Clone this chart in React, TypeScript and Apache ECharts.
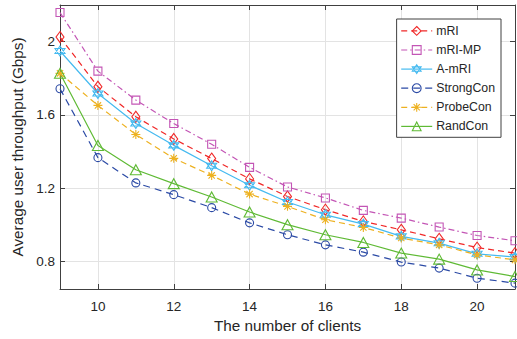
import React, { useEffect, useRef } from "react";
import * as echarts from "echarts";

const clients = ["9", "10", "11", "12", "13", "14", "15", "16", "17", "18", "19", "20", "21"];
const mRI = [2.025, 1.754, 1.59, 1.469, 1.362, 1.251, 1.155, 1.083, 1.019, 0.973, 0.924, 0.876, 0.846];
const mRIMP = [2.159, 1.839, 1.681, 1.553, 1.44, 1.314, 1.207, 1.147, 1.079, 1.037, 0.988, 0.942, 0.913];
const AmRI = [1.949, 1.717, 1.553, 1.434, 1.323, 1.216, 1.125, 1.055, 1.004, 0.937, 0.9, 0.842, 0.824];
const StrongCon = [1.743, 1.367, 1.229, 1.165, 1.094, 1.011, 0.946, 0.891, 0.851, 0.797, 0.764, 0.709, 0.682];
const ProbeCon = [1.827, 1.652, 1.493, 1.363, 1.27, 1.168, 1.101, 1.028, 0.986, 0.928, 0.891, 0.836, 0.809];
const RandCon = [1.827, 1.433, 1.301, 1.225, 1.152, 1.07, 1.001, 0.946, 0.904, 0.846, 0.813, 0.754, 0.718];

const yTicks = [0.8, 1.2, 1.6, 2];

const FONT = "Liberation Sans";
const AXIS_COLOR = "#404040";
const TEXT_COLOR = "#262626";
const GRID_COLOR = "#e3e3e3";

const SYM = {
  diamond: "path://M0,-1L0.72,0L0,1L-0.72,0Z",
  square: "path://M-1,-1L1,-1L1,1L-1,1Z",
  hexagram: "path://M0,-1L0.866,0.5L-0.866,0.5ZM0,1L0.866,-0.5L-0.866,-0.5Z",
  circle: "path://M1,0A1,1,0,1,1,-1,0A1,1,0,1,1,1,0Z",
  asterisk: "path://M0,-1L0,1M-1,0L1,0M-0.7,-0.7L0.7,0.7M-0.7,0.7L0.7,-0.7",
  triangle: "path://M0,-1L1,0.8L-1,0.8Z",
};

const seriesDefs = [
  { name: "mRI", data: mRI, color: "#f02828", dash: [6, 4] as any, symbol: SYM.diamond, size: [8, 11] },
  { name: "mRI-MP", data: mRIMP, color: "#c355b5", dash: [6, 3, 1.5, 3] as any, symbol: SYM.square, size: 8 },
  { name: "A-mRI", data: AmRI, color: "#45baf0", dash: "solid" as any, symbol: SYM.hexagram, size: 10 },
  { name: "StrongCon", data: StrongCon, color: "#2b4aa5", dash: [7, 5] as any, symbol: SYM.circle, size: 8 },
  { name: "ProbeCon", data: ProbeCon, color: "#edb120", dash: [6, 4] as any, symbol: SYM.asterisk, size: 9 },
  { name: "RandCon", data: RandCon, color: "#5fba35", dash: "solid" as any, symbol: SYM.triangle, size: [11, 10] },
];

const evenOnly = (_i: number, v: string) => Number(v) % 2 === 0;

export default function App() {
  const ref = useRef<HTMLDivElement>(null);
  useEffect(() => {
    document.body.style.margin = "0";
    if (!ref.current) return;
    const chart = echarts.init(ref.current, null, { renderer: "svg" });
    const yAxisBase = {
      type: "value" as const,
      min: 0.65,
      max: 2.2,
      axisLine: { show: true, lineStyle: { color: AXIS_COLOR, width: 1 } },
      axisTick: { show: true, inside: true, length: 5, customValues: yTicks, lineStyle: { color: AXIS_COLOR } },
    };
    const xAxisBase = {
      type: "category" as const,
      data: clients,
      boundaryGap: false,
      axisLine: { show: true, onZero: false, lineStyle: { color: AXIS_COLOR, width: 1 } },
      axisTick: { show: true, inside: true, length: 5, interval: evenOnly, lineStyle: { color: AXIS_COLOR } },
    };
    chart.setOption({
      animation: false,
      backgroundColor: "#ffffff",
      textStyle: { fontFamily: FONT },
      grid: { left: 60, right: 2, top: 5, bottom: 50, containLabel: false },
      legend: {
        orient: "vertical",
        right: 16,
        top: 19,
        padding: [5, 6, 4, 4],
        itemWidth: 31,
        itemHeight: 11,
        itemGap: 5.3,
        backgroundColor: "#ffffff",
        borderColor: AXIS_COLOR,
        borderWidth: 1,
        textStyle: { fontFamily: FONT, fontSize: 12.3, color: TEXT_COLOR, padding: [0, 0, 0, -1] },
        data: seriesDefs.map((s) => ({
          name: s.name,
          itemStyle: { color: "none", borderColor: s.color, borderWidth: 1.1 },
          lineStyle: { color: s.color, type: s.dash, width: 1.2 },
        })),
      },
      xAxis: [
        {
          ...xAxisBase,
          position: "bottom",
          name: "The number of clients",
          nameLocation: "middle",
          nameGap: 27,
          nameTextStyle: { fontFamily: FONT, fontSize: 15.3, color: TEXT_COLOR },
          axisLabel: { interval: evenOnly, margin: 10, fontFamily: FONT, fontSize: 13.5, color: TEXT_COLOR },
          splitLine: { show: true, interval: evenOnly, lineStyle: { color: GRID_COLOR, width: 1 } },
        },
        {
          ...xAxisBase,
          position: "top",
          axisLabel: { show: false },
          splitLine: { show: false },
        },
      ],
      yAxis: [
        {
          ...yAxisBase,
          position: "left",
          name: "Average user throughput (Gbps)",
          nameLocation: "middle",
          nameGap: 29,
          nameTextStyle: { fontFamily: FONT, fontSize: 15.3, color: TEXT_COLOR },
          axisLabel: {
            show: true,
            margin: 5,
            fontFamily: FONT,
            fontSize: 13.5,
            color: TEXT_COLOR,
            customValues: yTicks,
          },
          splitLine: { show: true, lineStyle: { color: GRID_COLOR, width: 1 } },
        },
        {
          ...yAxisBase,
          position: "right",
          axisLabel: { show: false },
          splitLine: { show: false },
        },
      ],
      series: seriesDefs.map((s) => ({
        name: s.name,
        type: "line",
        xAxisIndex: 0,
        yAxisIndex: 0,
        data: s.data,
        symbol: s.symbol,
        symbolSize: s.size,
        showSymbol: true,
        symbolKeepAspect: false,
        clip: true,
        itemStyle: { color: "none", borderColor: s.color, borderWidth: 1.1 },
        lineStyle: { color: s.color, type: s.dash, width: 1.2 },
        emphasis: { disabled: true },
      })),
    });
    return () => chart.dispose();
  }, []);
  return (
    <div
      ref={ref}
      style={{ width: 517, height: 339, position: "fixed", left: 0, top: 0, background: "#fff" }}
    />
  );
}
